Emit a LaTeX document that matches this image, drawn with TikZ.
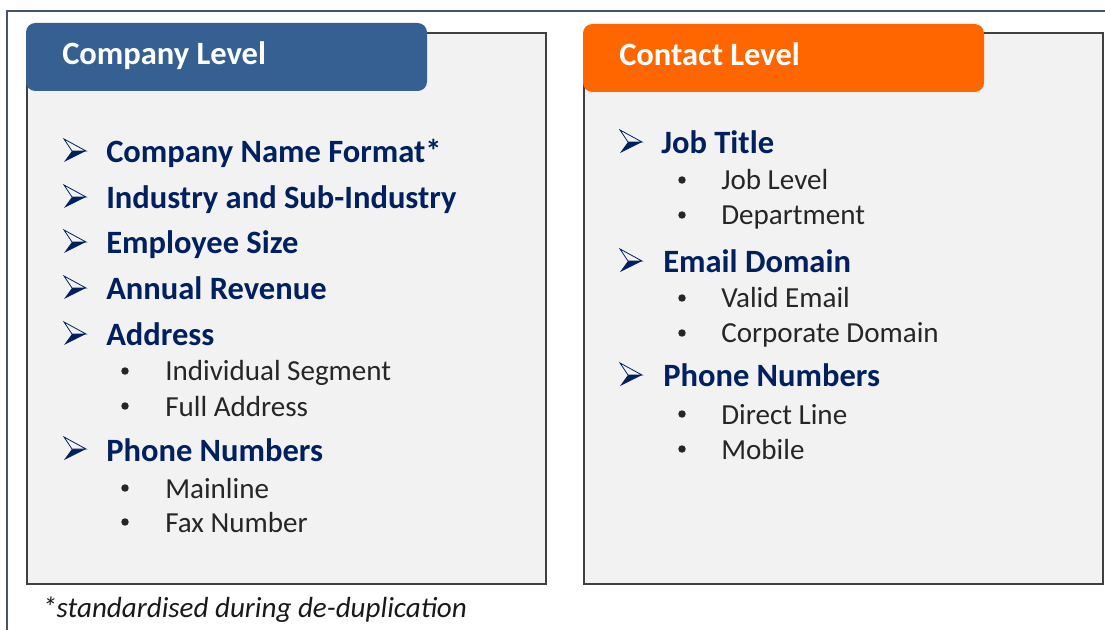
\documentclass[tikz,border=0pt]{standalone}
\usepackage{fontspec}
\setmainfont{Carlito}
\usetikzlibrary{calc}

\definecolor{headblue}{HTML}{366092}
\definecolor{headorange}{HTML}{FF6600}
\definecolor{itemblue}{HTML}{002060}
\definecolor{panelgray}{HTML}{F2F2F2}
\definecolor{panelline}{HTML}{404040}
\definecolor{frameline}{HTML}{44546A}

\tikzset{
	panel/.style={draw=panelline,line width=1.5pt,fill=panelgray},
	tabtext/.style={anchor=base west,inner sep=0pt,text=white,font=\fontsize{24.4}{28}\selectfont\bfseries},
	item/.style={anchor=base west,inner sep=0pt,text=itemblue,font=\fontsize{24.4}{28}\selectfont\bfseries},
	subitem/.style={anchor=base west,inner sep=0pt,text=black!85,font=\fontsize{21.8}{26}\selectfont},
	note/.style={anchor=base west,inner sep=0pt,text=black!90,font=\fontsize{21.8}{26}\selectfont\itshape},
	arrowmark/.pic={
		\fill[itemblue] (8,-12)--(22,-12)--(0,-1)--cycle;
		\draw[itemblue,line width=0.6pt,fill=panelgray,line join=miter] (0,-24)--(22,-12)--(8,-12)--cycle;
	},
	dotmark/.pic={\fill[black!85] (0,-10) circle (2.8pt);}
}

\begin{document}
\begin{tikzpicture}[x=0.75pt,y=-0.75pt]
		\useasboundingbox (0,0) rectangle (1105,630);
		\draw[frameline,line width=1.5pt](7,630)--(7,11)--(1105,11);
		% company level
		\draw[panel](27,33)rectangle(546,584);
		\fill[headblue,rounded corners=7pt](26,23)rectangle(427,91);
		\node[tabtext](comp) at (62,65) {Company Level};
		\node[item](c1) at (106,163) {Company Name Format*};
		\node[item](c2) at (106,209) {Industry and Sub-Industry};
		\node[item](c3) at (106,254) {Employee Size};
		\node[item](c4) at (106,300) {Annual Revenue};
		\node[item](c5) at (106,346) {Address};
		\node[subitem](c51) at (165,381) {Individual Segment};
		\node[subitem](c52) at (165,416) {Full Address};
		\node[item](c6) at (106,461) {Phone Numbers};
		\node[subitem](c61) at (165,498) {Mainline};
		\node[subitem](c62) at (165,532) {Fax Number};
		\pic at ($(c1.base west)+(-42,0)$) {arrowmark};
		\pic at ($(c2.base west)+(-42,0)$) {arrowmark};
		\pic at ($(c3.base west)+(-42,0)$) {arrowmark};
		\pic at ($(c4.base west)+(-42,0)$) {arrowmark};
		\pic at ($(c5.base west)+(-42,0)$) {arrowmark};
		\pic at ($(c6.base west)+(-42,0)$) {arrowmark};
		\pic at ($(c51.base west)+(-40,0)$) {dotmark};
		\pic at ($(c52.base west)+(-40,0)$) {dotmark};
		\pic at ($(c61.base west)+(-40,0)$) {dotmark};
		\pic at ($(c62.base west)+(-40,0)$) {dotmark};
		\node[note](foot) at (42,617) {*standardised during de-duplication};
		% contact level
		\draw[panel](584,33)rectangle(1103,584);
		\fill[headorange,rounded corners=7pt](583,24)rectangle(984,92);
		\node[tabtext](cont) at (619,66) {Contact Level};
		\node[item](p1) at (661,154) {Job Title};
		\node[subitem](p11) at (721,190) {Job Level};
		\node[subitem](p12) at (721,225) {Department};
		\node[item](p2) at (663,273) {Email Domain};
		\node[subitem](p21) at (721,308) {Valid Email};
		\node[subitem](p22) at (721,343) {Corporate Domain};
		\node[item](p3) at (663,387) {Phone Numbers};
		\node[subitem](p31) at (721,424) {Direct Line};
		\node[subitem](p32) at (721,459) {Mobile};
		\pic at ($(p1.base west)+(-41,0)$) {arrowmark};
		\pic at ($(p2.base west)+(-43,0)$) {arrowmark};
		\pic at ($(p3.base west)+(-43,0)$) {arrowmark};
		\pic at ($(p11.base west)+(-39,0)$) {dotmark};
		\pic at ($(p12.base west)+(-39,0)$) {dotmark};
		\pic at ($(p21.base west)+(-39,0)$) {dotmark};
		\pic at ($(p22.base west)+(-39,0)$) {dotmark};
		\pic at ($(p31.base west)+(-39,0)$) {dotmark};
		\pic at ($(p32.base west)+(-39,0)$) {dotmark};
	\end{tikzpicture}
\end{document}
